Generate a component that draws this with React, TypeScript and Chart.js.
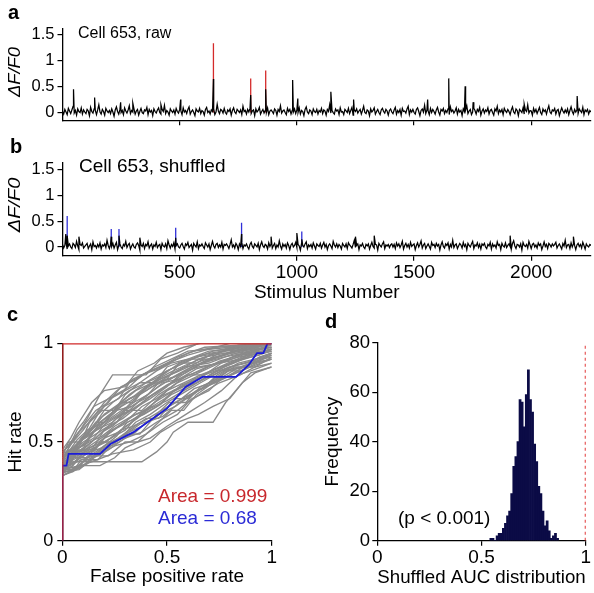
import React, { useEffect, useRef } from "react";
import { Chart, registerables } from "chart.js";

Chart.register(...registerables);

// ---------- DATA ----------
const stimulusTicks = [500, 1000, 1500, 2000];
const traceStep = 5; // stimuli between successive samples of the baseline traces

// panel a: raw trace baseline (dF/F0), one value every traceStep stimuli
const rawNoise = [
  .02,-.03,.06,.01,-.04,.08,.03,-.02,.05,.12,-.01,.04,-.05,.07,.02,.00,.09,-.03,.05,.01,
  -.02,.06,.03,-.06,.1,.02,-.01,.07,.04,-.04,.05,.15,.01,-.03,.06,.02,-.05,.08,.03,.0,
  .04,-.02,.07,.01,-.07,.05,.11,.02,-.03,.06,.0,.04,-.04,.09,.03,-.01,.05,.13,-.02,.04,
  .01,.07,-.03,.03,.06,-.05,.02,.08,.0,-.02,.05,.03,.1,-.04,.06,.01,.04,-.06,.07,.02,
  -.01,.05,.09,.0,-.03,.06,.02,.14,-.02,.04,.01,-.05,.07,.03,.0,.05,-.03,.08,.02,-.01,
  .06,.03,-.04,.09,.01,.04,-.02,.06,.11,-.03,.02,.05,.0,-.06,.07,.03,.01,.08,-.02,.04,
  .02,-.05,.06,.1,.0,.03,-.03,.05,.02,.07,-.04,.01,.16,.03,-.02,.06,.04,-.01,.08,.0,
  -.03,.05,.02,.07,-.05,.04,.09,.01,-.02,.06,.03,.0,.05,-.04,.12,.02,.04,-.03,.06,.01,
  .08,-.02,.03,.05,-.06,.07,.01,.04,.1,-.03,.02,.06,-.01,.04,.0,.09,-.04,.03,.05,.02,
  -.02,.07,.04,-.05,.06,.02,.13,-.01,.03,.05,.0,-.04,.08,.02,.06,-.03,.04,.01,.07,-.02,
  .05,.0,.09,-.03,.04,.02,-.06,.06,.11,.01,-.02,.05,.03,-.04,.07,.02,.0,.06,-.03,.04,
  .01,.08,-.02,.05,.03,-.05,.06,.02,.15,-.01,.04,.0,-.03,.07,.03,.05,-.04,.09,.01,.02,
  -.04,.06,.03,.0,.08,-.02,.04,.1,-.05,.05,.02,.07,-.01,.03,.06,-.03,.04,.12,.0,-.02,
  .05,.03,-.06,.07,.01,.04,.09,-.03,.02,.06,.0,-.04,.05,.08,.02,-.01,.06,.03,-.05,.04,
  .07,.01,-.02,.05,.1,-.03,.04,.0,.06,-.05,.08,.02,.03,-.01,.07,.12,-.04,.05,.01,.06,
  .0,-.03,.06,.09,.02,-.06,.04,.07,.01,.14,-.02,.05,.03,-.04,.08,.0,.06,.02,-.03,.05,
  .1,.01,-.05,.06,.03,.08,-.02,.04,.0,.07,-.04,.11,.02,.05,-.01,.03,.09,-.03,.06,.01,
  .04,-.06,.07,.02,.05,.13,-.02,.03,.06,-.04,.01,.08,.04,-.03,.06,.02,.1,-.05,.03,.07,
  -.01,.05,.02,.09,-.03,.04,.06,.0,-.05,.07,.03,.12,-.02,.05,.01,.06,-.04,.08,.03,.0,
  .06,.02,-.04,.05,.11,.01,-.02,.07,.04,-.06,.06,.03,.0,.09,-.03,.05,.02,.15,-.01,.04,
  .03,-.05,.08,.01,.06,-.02,.04,.1,.0,-.04,.07,.02,.05,-.03,.06,.13,.01,-.02,.05,.03,
  .08,-.03,.04,.06,-.06,.02,.09,.03,-.01,.05,.0,.07,-.04,.04,.11,.02,-.03,.06,.01,.05,
  -.02,.07,.03,.0,.1,-.04,.05,.02,.06,-.03,.04,.01,
];
const rawSpikeStim = [47, 137, 248, 300, 420, 504, 644, 803, 867, 982, 1004, 1145, 1242, 1558, 1648, 1718, 1752, 1970, 2196];
const rawSpikeHeight = [0.45, 0.29, 0.2, 0.18, 0.15, 0.25, 0.65, 0.34, 0.45, 0.63, 0.27, 0.4, 0.25, 0.25, 0.66, 0.51, 0.2, 0.16, 0.32];
const rawRedStim = [644, 803, 867];
const rawRedHeight = [1.34, 0.66, 0.81];

// panel b: shuffled trace baseline
const shufNoise = [
  .05,-.02,.03,.09,-.04,.02,.06,.0,-.03,.07,.04,-.01,.11,.02,-.05,.05,.03,.08,-.02,.01,
  .04,.07,-.03,.02,.06,-.05,.1,.01,.03,-.02,.05,.0,.08,-.04,.04,.02,.06,-.01,.13,.03,
  -.03,.05,.01,.07,-.02,.04,.09,-.05,.03,.06,.0,-.03,.05,.02,.11,-.01,.04,.07,-.04,.02,
  .06,.0,-.02,.05,.08,.03,-.06,.04,.01,.07,-.03,.05,.02,.1,-.02,.03,.06,-.04,.04,.01,
  .09,-.01,.03,.05,-.05,.07,.02,.0,.06,-.03,.12,.04,-.02,.05,.01,.08,-.04,.03,.06,.0,
  -.02,.04,.07,.01,-.04,.06,.03,.09,-.01,.02,.05,-.06,.07,.03,.0,.1,-.03,.04,.02,.06,
  .01,-.03,.08,.04,.0,.06,-.05,.03,.11,.02,-.02,.05,.07,-.01,.04,.0,.09,-.04,.05,.03,
  .06,.02,-.03,.05,.14,.0,.04,-.02,.07,.03,-.05,.06,.01,.08,-.03,.04,.02,.06,.0,-.04,
  .05,.09,.01,-.02,.06,.03,.0,.07,-.05,.04,.1,.02,-.01,.05,.03,-.04,.08,.01,.06,-.02,
  .03,.07,-.03,.04,.0,.12,.02,-.04,.06,.01,.05,-.02,.08,.03,-.05,.04,.07,.0,.03,.09,
  -.01,.05,.02,-.06,.07,.03,.0,.06,.1,-.03,.04,.01,.05,-.02,.08,.02,-.04,.06,.03,.01,
  .07,-.02,.04,.09,.0,.05,-.05,.03,.06,.02,-.03,.11,.04,.0,.06,-.01,.05,.02,-.04,.07,
  .03,.0,.06,-.03,.08,.04,.01,-.02,.05,.13,-.01,.03,.06,-.05,.04,.02,.07,.0,-.03,.05,
  .02,.06,-.04,.03,.09,.01,-.02,.05,.04,-.06,.07,.03,.0,.06,.1,-.03,.04,.02,.05,-.01,
  .04,.06,.0,.05,-.03,.08,.02,.06,-.01,.04,.11,-.04,.03,.07,.0,.05,-.02,.09,.01,.04,
  .06,-.05,.03,.08,.0,.05,.12,-.02,.04,.07,-.03,.02,.06,.01,-.04,.09,.03,.05,-.01,.07,
  .02,.05,-.06,.04,.1,.01,-.02,.06,.03,.08,-.04,.05,.0,.13,-.01,.04,.06,-.03,.02,.07,
  .04,-.02,.09,.01,.05,-.05,.07,.03,.0,.06,.11,-.03,.04,.02,.08,-.01,.05,-.04,.06,.03,
  .07,.0,-.03,.05,.02,.09,-.04,.06,.01,.04,-.02,.1,.03,.05,-.05,.07,.02,.0,.08,-.01,
  .03,.06,.01,-.04,.07,.12,.02,-.03,.05,.04,.0,.06,-.06,.09,.03,.01,.05,-.02,.11,.04,
  -.03,.05,.07,.0,.04,-.02,.08,.03,.06,-.05,.02,.1,.01,.05,-.03,.07,.04,.0,.06,.02,
  .05,.09,-.02,.03,.06,.01,-.04,.07,.02,.13,-.01,.04,.05,-.03,.08,.0,.06,.03,-.05,.04,
  .07,.01,.05,-.02,.09,.03,-.04,.06,.02,.0,.05,.03,
];
const shufSpikeStim = [14, 20, 70, 208, 241, 330, 483, 764, 890, 1000, 1021, 1250, 1330, 1910, 2180];
const shufSpikeHeight = [0.25, 0.22, 0.2, 0.2, 0.22, 0.18, 0.18, 0.25, 0.2, 0.27, 0.15, 0.2, 0.22, 0.22, 0.2];
const shufBlueStim = [20, 208, 241, 483, 764, 1021];
const shufBlueHeight = [0.6, 0.35, 0.35, 0.37, 0.47, 0.3];

// panel c: ROC curves, flat [fpr, hit, fpr, hit, ...]
const rocReal = [0, 0, 0, 1, 1, 1];
const rocBlue = [0, 0, 0, 0.38, 0.02, 0.38, 0.03, 0.44, 0.18, 0.44, 0.23, 0.49, 0.34, 0.55, 0.5, 0.67, 0.59, 0.78, 0.67, 0.83, 0.83, 0.83, 0.89, 0.89, 0.93, 0.95, 0.96, 0.95, 0.98, 1, 1, 1];
const rocShuffled: number[][] = [
  [0,0.35, 0.05,0.38, 0.1,0.45, 0.15,0.45, 0.22,0.55, 0.3,0.6, 0.38,0.68, 0.45,0.72, 0.55,0.8, 0.65,0.85, 0.75,0.9, 0.85,0.92, 0.92,0.96, 1,1],
  [0,0.4, 0.04,0.4, 0.08,0.5, 0.18,0.58, 0.25,0.65, 0.32,0.72, 0.4,0.76, 0.5,0.83, 0.58,0.88, 0.7,0.9, 0.8,0.94, 0.9,0.97, 1,1],
  [0,0.33, 0.06,0.36, 0.12,0.42, 0.2,0.48, 0.28,0.52, 0.35,0.6, 0.42,0.64, 0.5,0.7, 0.58,0.75, 0.66,0.8, 0.76,0.86, 0.85,0.88, 0.95,0.92, 1,0.93],
  [0,0.45, 0.03,0.48, 0.08,0.55, 0.13,0.6, 0.2,0.7, 0.26,0.76, 0.34,0.82, 0.42,0.86, 0.5,0.9, 0.6,0.94, 0.7,0.97, 0.8,0.98, 1,1],
  [0,0.34, 0.05,0.4, 0.2,0.4, 0.38,0.4, 0.45,0.45, 0.5,0.5, 0.53,0.55, 0.6,0.6, 0.72,0.6, 0.78,0.7, 0.82,0.75, 0.9,0.85, 1,0.88],
  [0,0.42, 0.05,0.5, 0.12,0.62, 0.18,0.74, 0.24,0.84, 0.4,0.84, 0.47,0.92, 0.55,0.95, 0.65,1, 1,1],
  [0,0.38, 0.07,0.42, 0.1,0.46, 0.2,0.5, 0.3,0.56, 0.35,0.62, 0.45,0.68, 0.52,0.74, 0.6,0.78, 0.7,0.83, 0.8,0.88, 0.88,0.9, 1,0.95],
  [0,0.36, 0.02,0.4, 0.06,0.44, 0.14,0.5, 0.2,0.56, 0.26,0.62, 0.32,0.66, 0.38,0.72, 0.46,0.78, 0.55,0.84, 0.62,0.88, 0.72,0.92, 0.82,0.96, 1,0.98],
  [0,0.4, 0.05,0.45, 0.1,0.52, 0.16,0.56, 0.24,0.6, 0.3,0.66, 0.36,0.7, 0.45,0.75, 0.52,0.8, 0.6,0.86, 0.7,0.92, 0.8,0.95, 0.9,0.97, 1,1],
  [0,0.35, 0.08,0.36, 0.15,0.42, 0.22,0.46, 0.3,0.52, 0.38,0.55, 0.45,0.6, 0.55,0.66, 0.62,0.72, 0.7,0.76, 0.76,0.82, 0.85,0.86, 0.93,0.9, 1,0.92],
  [0,0.44, 0.04,0.5, 0.1,0.58, 0.16,0.66, 0.22,0.7, 0.28,0.78, 0.36,0.82, 0.44,0.88, 0.52,0.92, 0.6,0.96, 0.7,0.97, 0.8,1, 1,1],
  [0,0.37, 0.03,0.43, 0.09,0.48, 0.15,0.52, 0.21,0.6, 0.27,0.64, 0.34,0.7, 0.41,0.74, 0.48,0.8, 0.56,0.82, 0.64,0.87, 0.74,0.9, 0.84,0.93, 1,0.96],
  [0,0.33, 0.1,0.38, 0.16,0.44, 0.24,0.5, 0.3,0.54, 0.38,0.58, 0.46,0.64, 0.54,0.68, 0.62,0.74, 0.68,0.78, 0.74,0.84, 0.84,0.9, 0.92,0.92, 1,0.95],
  [0,0.41, 0.06,0.47, 0.12,0.54, 0.18,0.62, 0.26,0.68, 0.32,0.74, 0.4,0.8, 0.48,0.84, 0.56,0.9, 0.64,0.93, 0.74,0.95, 0.86,0.98, 1,1],
  [0,0.39, 0.04,0.41, 0.08,0.47, 0.13,0.5, 0.19,0.53, 0.25,0.58, 0.33,0.63, 0.4,0.66, 0.47,0.73, 0.55,0.77, 0.63,0.82, 0.73,0.86, 0.82,0.9, 0.9,0.94, 1,0.97],
  [0,0.46, 0.04,0.52, 0.08,0.6, 0.14,0.7, 0.2,0.76, 0.3,0.78, 0.36,0.86, 0.44,0.9, 0.5,0.95, 0.58,0.98, 0.66,1, 1,1],
  [0,0.36, 0.05,0.36, 0.1,0.4, 0.18,0.44, 0.25,0.48, 0.32,0.5, 0.4,0.54, 0.48,0.6, 0.55,0.64, 0.6,0.7, 0.67,0.75, 0.75,0.8, 0.85,0.84, 0.92,0.88, 1,0.9],
  [0,0.42, 0.07,0.49, 0.14,0.56, 0.2,0.64, 0.28,0.7, 0.35,0.76, 0.43,0.8, 0.5,0.86, 0.58,0.9, 0.66,0.94, 0.76,0.96, 0.88,0.97, 1,1],
  [0,0.34, 0.03,0.38, 0.1,0.43, 0.17,0.48, 0.23,0.52, 0.29,0.57, 0.36,0.62, 0.44,0.7, 0.5,0.76, 0.58,0.8, 0.66,0.84, 0.76,0.88, 0.86,0.92, 0.94,0.94, 1,0.97],
  [0,0.38, 0.05,0.44, 0.11,0.5, 0.17,0.58, 0.23,0.62, 0.31,0.68, 0.37,0.74, 0.43,0.78, 0.51,0.82, 0.59,0.85, 0.67,0.9, 0.77,0.93, 0.87,0.95, 1,0.98],
  [0,0.36, 0.08,0.38, 0.18,0.38, 0.25,0.42, 0.3,0.47, 0.36,0.5, 0.42,0.52, 0.5,0.58, 0.56,0.62, 0.62,0.66, 0.68,0.7, 0.76,0.76, 0.84,0.84, 0.9,0.86, 1,0.9],
  [0,0.43, 0.05,0.46, 0.09,0.52, 0.15,0.58, 0.2,0.66, 0.24,0.7, 0.32,0.76, 0.38,0.79, 0.46,0.84, 0.54,0.88, 0.62,0.92, 0.72,0.96, 0.82,0.98, 1,1],
  [0,0.35, 0.04,0.39, 0.09,0.42, 0.16,0.47, 0.22,0.54, 0.28,0.59, 0.35,0.64, 0.43,0.68, 0.49,0.72, 0.57,0.79, 0.65,0.82, 0.71,0.86, 0.79,0.9, 0.88,0.94, 1,0.96],
  [0,0.4, 0.06,0.43, 0.12,0.48, 0.19,0.55, 0.24,0.58, 0.3,0.64, 0.38,0.7, 0.46,0.76, 0.53,0.8, 0.61,0.84, 0.69,0.88, 0.79,0.92, 0.89,0.96, 1,0.99],
  [0,0.37, 0.02,0.37, 0.07,0.45, 0.12,0.46, 0.2,0.52, 0.27,0.55, 0.33,0.6, 0.39,0.66, 0.44,0.7, 0.5,0.74, 0.58,0.78, 0.64,0.8, 0.72,0.85, 0.8,0.88, 0.9,0.91, 1,0.94],
  [0,0.45, 0.05,0.5, 0.1,0.56, 0.14,0.62, 0.2,0.68, 0.27,0.72, 0.32,0.8, 0.4,0.85, 0.47,0.88, 0.55,0.93, 0.63,0.96, 0.73,0.98, 1,1],
  [0,0.34, 0.06,0.37, 0.14,0.4, 0.24,0.44, 0.34,0.46, 0.42,0.5, 0.47,0.55, 0.55,0.6, 0.65,0.64, 0.72,0.68, 0.8,0.72, 0.86,0.8, 0.92,0.85, 1,0.88],
  [0,0.39, 0.03,0.42, 0.08,0.5, 0.14,0.54, 0.19,0.59, 0.26,0.66, 0.33,0.68, 0.4,0.73, 0.46,0.8, 0.53,0.83, 0.6,0.87, 0.68,0.91, 0.78,0.94, 0.88,0.98, 1,1],
  [0,0.36, 0.05,0.42, 0.13,0.46, 0.21,0.5, 0.28,0.56, 0.34,0.58, 0.41,0.62, 0.49,0.67, 0.57,0.72, 0.63,0.77, 0.71,0.8, 0.79,0.86, 0.87,0.88, 0.95,0.92, 1,0.95],
  [0,0.42, 0.04,0.44, 0.1,0.5, 0.16,0.54, 0.22,0.58, 0.29,0.62, 0.36,0.68, 0.42,0.72, 0.5,0.78, 0.57,0.85, 0.65,0.88, 0.75,0.9, 0.83,0.94, 0.93,0.96, 1,1],
  [0,0.38, 0.06,0.46, 0.11,0.49, 0.18,0.6, 0.25,0.66, 0.33,0.71, 0.4,0.77, 0.47,0.82, 0.56,0.86, 0.66,0.91, 0.76,0.94, 0.86,0.97, 1,1],
  [0,0.35, 0.04,0.37, 0.1,0.44, 0.19,0.47, 0.26,0.53, 0.31,0.6, 0.39,0.64, 0.47,0.69, 0.53,0.76, 0.61,0.8, 0.69,0.85, 0.78,0.89, 0.9,0.93, 1,0.96],
  [0,0.41, 0.03,0.45, 0.07,0.51, 0.13,0.57, 0.17,0.64, 0.23,0.72, 0.3,0.76, 0.37,0.8, 0.45,0.86, 0.52,0.9, 0.6,0.92, 0.7,0.96, 0.8,0.97, 1,1],
  [0,0.33, 0.05,0.35, 0.12,0.39, 0.18,0.45, 0.27,0.5, 0.35,0.55, 0.4,0.6, 0.48,0.63, 0.56,0.7, 0.64,0.76, 0.73,0.8, 0.81,0.84, 0.9,0.88, 1,0.92],
  [0,0.44, 0.07,0.48, 0.12,0.56, 0.2,0.6, 0.27,0.69, 0.34,0.73, 0.41,0.79, 0.49,0.83, 0.57,0.87, 0.65,0.92, 0.74,0.95, 0.84,0.99, 1,1],
  [0,0.37, 0.06,0.4, 0.13,0.48, 0.2,0.53, 0.26,0.57, 0.33,0.61, 0.42,0.67, 0.5,0.71, 0.58,0.76, 0.66,0.81, 0.74,0.86, 0.82,0.91, 0.91,0.94, 1,0.97],
  [0,0.4, 0.03,0.47, 0.07,0.56, 0.1,0.6, 0.15,0.68, 0.24,0.73, 0.32,0.78, 0.38,0.84, 0.46,0.87, 0.53,0.91, 0.6,0.95, 0.68,0.98, 1,1],
  [0,0.36, 0.09,0.41, 0.15,0.43, 0.21,0.49, 0.29,0.53, 0.37,0.59, 0.44,0.62, 0.51,0.68, 0.59,0.73, 0.67,0.77, 0.75,0.82, 0.83,0.87, 0.92,0.9, 1,0.94],
  [0,0.39, 0.05,0.43, 0.1,0.47, 0.15,0.55, 0.22,0.6, 0.28,0.64, 0.35,0.67, 0.43,0.74, 0.5,0.79, 0.58,0.83, 0.66,0.86, 0.75,0.91, 0.85,0.94, 1,0.97],
  [0,0.42, 0.05,0.47, 0.11,0.53, 0.17,0.59, 0.23,0.64, 0.29,0.7, 0.36,0.74, 0.44,0.81, 0.51,0.85, 0.59,0.89, 0.68,0.93, 0.78,0.95, 0.88,0.98, 1,1],
  [0,0.34, 0.02,0.37, 0.08,0.37, 0.12,0.43, 0.22,0.43, 0.3,0.5, 0.36,0.5, 0.44,0.58, 0.52,0.66, 0.58,0.66, 0.64,0.74, 0.72,0.8, 0.8,0.84, 0.9,0.9, 1,0.92],
  [0,0.4, 0.02,0.44, 0.06,0.44, 0.1,0.52, 0.16,0.6, 0.2,0.6, 0.28,0.7, 0.34,0.7, 0.4,0.78, 0.5,0.82, 0.56,0.9, 0.64,0.9, 0.72,0.95, 0.84,0.95, 1,0.98],
  [0,0.36, 0.04,0.42, 0.12,0.42, 0.18,0.5, 0.24,0.5, 0.32,0.56, 0.4,0.62, 0.46,0.62, 0.54,0.72, 0.6,0.72, 0.7,0.8, 0.78,0.86, 0.86,0.86, 0.94,0.93, 1,0.95],
  [0,0.38, 0.03,0.38, 0.08,0.46, 0.14,0.46, 0.2,0.56, 0.26,0.6, 0.3,0.66, 0.38,0.66, 0.46,0.74, 0.52,0.78, 0.6,0.84, 0.68,0.84, 0.76,0.9, 0.86,0.94, 1,0.97],
  [0,0.43, 0.03,0.5, 0.09,0.5, 0.13,0.6, 0.19,0.66, 0.25,0.66, 0.3,0.74, 0.37,0.8, 0.44,0.8, 0.5,0.88, 0.6,0.92, 0.7,0.92, 0.78,0.97, 1,1],
  [0,0.35, 0.05,0.35, 0.09,0.41, 0.17,0.41, 0.23,0.48, 0.31,0.54, 0.37,0.54, 0.45,0.64, 0.51,0.7, 0.59,0.7, 0.66,0.78, 0.74,0.82, 0.82,0.88, 0.92,0.88, 1,0.93],
];
const rocTicks = [0, 0.5, 1];

// panel d: histogram of shuffled AUC
const aucBins = [0.545,0.555,0.565,0.575,0.585,0.595,0.605,0.615,0.625,0.635,0.645,0.655,0.665,0.675,0.685,0.695,0.705,0.715,0.725,0.735,0.745,0.755,0.765,0.775,0.785,0.795,0.805,0.815,0.825,0.835,0.845,0.855,0.865];
const aucCounts = [1,1,0,2,3,3,5,7,10,12,19,30,34,40,57,56,46,59,69,57,52,39,32,22,19,12,6,8,4,1,2,3,1];
const realAuc = 0.999;
const freqTicks = [0, 20, 40, 60, 80];

// ---------- HELPERS ----------
const FONT = '"Liberation Sans", Arial, Helvetica, sans-serif';
Chart.defaults.font.family = FONT;
Chart.defaults.color = "#000";

type TextItem = {
  t: string; x: number; y: number; size: number;
  weight?: string; italic?: boolean; color?: string;
  align?: CanvasTextAlign; baseline?: CanvasTextBaseline; rotate?: number; sx?: number;
};

function textPlugin(id: string, items: TextItem[]) {
  return {
    id,
    afterDraw(chart: any) {
      const ctx = chart.ctx as CanvasRenderingContext2D;
      items.forEach((it) => {
        ctx.save();
        ctx.font = `${it.italic ? "italic " : ""}${it.weight || "normal"} ${it.size}px ${FONT}`;
        ctx.fillStyle = it.color || "#000";
        ctx.textAlign = it.align || "left";
        ctx.textBaseline = it.baseline || "alphabetic";
        ctx.translate(it.x, it.y);
        if (it.rotate) ctx.rotate((it.rotate * Math.PI) / 180);
        if (it.sx) ctx.scale(it.sx, 1);
        ctx.fillText(it.t, 0, 0);
        ctx.restore();
      });
    },
  };
}

function pairs(flat: number[]) {
  const out: { x: number; y: number }[] = [];
  for (let i = 0; i < flat.length; i += 2) out.push({ x: flat[i], y: flat[i + 1] });
  return out;
}

function buildTrace(noise: number[], stim: number[], h: number[]) {
  const pts = noise.map((v, i) => ({ x: i * traceStep, y: v }));
  stim.forEach((s, i) => pts.push({ x: s, y: h[i] }));
  pts.sort((a, b) => a.x - b.x);
  return pts;
}

function buildSpikes(stim: number[], h: number[]) {
  const pts: { x: number; y: number | null }[] = [];
  stim.forEach((s, i) => {
    pts.push({ x: s, y: 0 }, { x: s, y: h[i] }, { x: s, y: null });
  });
  return pts;
}

function axis(o: {
  min: number; max: number; ticks: number[]; size: number; pad: number;
  fit: number; horizontal: boolean; hideLabels?: boolean;
  title?: string; titlePad?: any;
}) {
  return {
    type: "linear",
    min: o.min,
    max: o.max,
    offset: false,
    afterBuildTicks: (s: any) => { s.ticks = o.ticks.map((v) => ({ value: v })); },
    afterFit: (s: any) => { if (o.horizontal) s.height = o.fit; else s.width = o.fit; },
    ticks: {
      font: { size: o.size },
      padding: o.pad,
      color: o.hideLabels ? "rgba(0,0,0,0)" : "#000",
      autoSkip: false,
      maxRotation: 0,
      minRotation: 0,
      callback: (v: any) => String(v),
    },
    grid: { display: true, drawOnChartArea: false, drawTicks: true, tickLength: 5, color: "#000", lineWidth: 1.2, offset: false },
    border: { display: true, color: "#000", width: 1.3 },
    title: o.title
      ? { display: true, text: o.title, font: { size: 19 }, color: "#000", padding: o.titlePad }
      : { display: false },
  };
}

const baseOpts = {
  animation: false,
  responsive: false,
  maintainAspectRatio: false,
  events: [] as any[],
  plugins: { legend: { display: false }, tooltip: { enabled: false } },
};

// ---------- COMPONENT ----------
export default function App() {
  const refA = useRef<HTMLCanvasElement>(null);
  const refB = useRef<HTMLCanvasElement>(null);
  const refC = useRef<HTMLCanvasElement>(null);
  const refD = useRef<HTMLCanvasElement>(null);

  useEffect(() => {
    const charts: Chart[] = [];

    // Panel a
    charts.push(new Chart(refA.current!, {
      type: "line",
      data: {
        datasets: [
          { data: buildTrace(rawNoise, rawSpikeStim, rawSpikeHeight), borderColor: "#000", borderWidth: 1.25, pointRadius: 0, tension: 0 },
          { data: buildSpikes(rawRedStim, rawRedHeight), borderColor: "#d42a2a", borderWidth: 1.3, pointRadius: 0, spanGaps: false },
        ],
      },
      options: {
        ...baseOpts,
        layout: { padding: { left: 0, top: 28.7, right: 3, bottom: 0 } },
        scales: {
          x: axis({ min: 0, max: 2255, ticks: stimulusTicks, size: 19, pad: 0, fit: 13.7, horizontal: true, hideLabels: true }),
          y: axis({ min: -0.15, max: 1.62, ticks: [0, 0.5, 1, 1.5], size: 16.5, pad: 3, fit: 62.5, horizontal: false }),
        },
      } as any,
      plugins: [textPlugin("txtA", [
        { t: "a", x: 8, y: 19, size: 20, weight: "bold" },
        { t: "Cell 653, raw", x: 78, y: 38, size: 16 },
        { t: "ΔF/F0", x: 15.5, y: 72, size: 16, italic: true, align: "center", baseline: "middle", rotate: -90, sx: 1.15 },
      ])],
    } as any));

    // Panel b
    charts.push(new Chart(refB.current!, {
      type: "line",
      data: {
        datasets: [
          { data: buildTrace(shufNoise, shufSpikeStim, shufSpikeHeight), borderColor: "#000", borderWidth: 1.25, pointRadius: 0, tension: 0 },
          { data: buildSpikes(shufBlueStim, shufBlueHeight), borderColor: "#3030d8", borderWidth: 1.3, pointRadius: 0, spanGaps: false },
        ],
      },
      options: {
        ...baseOpts,
        layout: { padding: { left: 0, top: 32.7, right: 3, bottom: 0 } },
        scales: {
          x: axis({ min: 0, max: 2255, ticks: stimulusTicks, size: 19, pad: 0.5, fit: 49.2, horizontal: true, title: "Stimulus Number", titlePad: { top: 0, bottom: 0.6 } }),
          y: axis({ min: -0.17, max: 1.63, ticks: [0, 0.5, 1, 1.5], size: 16.5, pad: 3, fit: 62.5, horizontal: false }),
        },
      } as any,
      plugins: [textPlugin("txtB", [
        { t: "b", x: 10, y: 23, size: 20, weight: "bold" },
        { t: "Cell 653, shuffled", x: 79, y: 42, size: 19 },
        { t: "ΔF/F0", x: 15.5, y: 75, size: 16, italic: true, align: "center", baseline: "middle", rotate: -90, sx: 1.25 },
      ])],
    } as any));

    // Panel c
    const grayDs = rocShuffled.map((c) => ({ data: pairs(c), borderColor: "#8a8a8a", borderWidth: 1.35, pointRadius: 0, tension: 0 }));
    charts.push(new Chart(refC.current!, {
      type: "line",
      data: {
        datasets: [
          { data: pairs(rocReal), borderColor: "#d02828", borderWidth: 2.2, pointRadius: 0, tension: 0 },
          { data: pairs(rocBlue), borderColor: "#1c1cd8", borderWidth: 1.8, pointRadius: 0, tension: 0 },
          ...grayDs,
        ],
      },
      options: {
        ...baseOpts,
        layout: { padding: { left: 0, top: 38.3, right: 25.3, bottom: 0 } },
        scales: {
          x: axis({ min: 0, max: 1, ticks: rocTicks, size: 19, pad: 0.4, fit: 52.3, horizontal: true, title: "False positive rate", titlePad: { top: 0, bottom: 4.6 } }),
          y: axis({ min: 0, max: 1, ticks: rocTicks, size: 18, pad: 4, fit: 62.3, horizontal: false, title: "Hit rate", titlePad: { top: 4, bottom: 0 } }),
        },
      } as any,
      plugins: [textPlugin("txtC", [
        { t: "c", x: 7, y: 16, size: 20, weight: "bold" },
        { t: "Area = 0.999", x: 158, y: 197, size: 19, color: "#c8282d" },
        { t: "Area = 0.68", x: 158, y: 219, size: 19, color: "#2b2bd6" },
      ])],
    } as any));

    // Panel d
    charts.push(new Chart(refD.current!, {
      type: "bar",
      data: {
        datasets: [
          { type: "line", data: [{ x: realAuc, y: 0 }, { x: realAuc, y: 80 }], borderColor: "#e03030", borderDash: [3, 3], borderWidth: 1.5, pointRadius: 0 },
          { type: "bar", data: aucBins.map((b, i) => ({ x: b, y: aucCounts[i] })), backgroundColor: "#0b0b46", borderWidth: 0, barPercentage: 1, categoryPercentage: 1, grouped: false },
        ],
      },
      options: {
        ...baseOpts,
        layout: { padding: { left: 0, top: 37.7, right: 8.3, bottom: 0 } },
        scales: {
          x: axis({ min: 0, max: 1, ticks: rocTicks, size: 19, pad: 0.4, fit: 52.3, horizontal: true, title: "Shuffled AUC distribution", titlePad: { top: 0, bottom: 4 } }),
          y: axis({ min: 0, max: 80, ticks: freqTicks, size: 18.5, pad: 2.3, fit: 80.3, horizontal: false, title: "Frequency", titlePad: { top: 24.5, bottom: 0 } }),
        },
      } as any,
      plugins: [textPlugin("txtD", [
        { t: "d", x: 28, y: 23, size: 20, weight: "bold" },
        { t: "(p < 0.001)", x: 101, y: 219, size: 19 },
      ])],
    } as any));

    return () => charts.forEach((c) => c.destroy());
  }, []);

  const abs = (l: number, t: number, w: number, h: number): React.CSSProperties => ({
    position: "absolute", left: l, top: t, width: w, height: h,
  });

  return (
    <div style={{ position: "fixed", left: 0, top: 0, width: 594, height: 593, background: "#fff", overflow: "hidden" }}>
      <canvas ref={refA} width={594} height={134} style={abs(0, 0, 594, 134)} />
      <canvas ref={refB} width={594} height={175} style={abs(0, 130, 594, 175)} />
      <canvas ref={refC} width={297} height={288} style={abs(0, 305, 297, 288)} />
      <canvas ref={refD} width={297} height={288} style={abs(297, 305, 297, 288)} />
    </div>
  );
}
